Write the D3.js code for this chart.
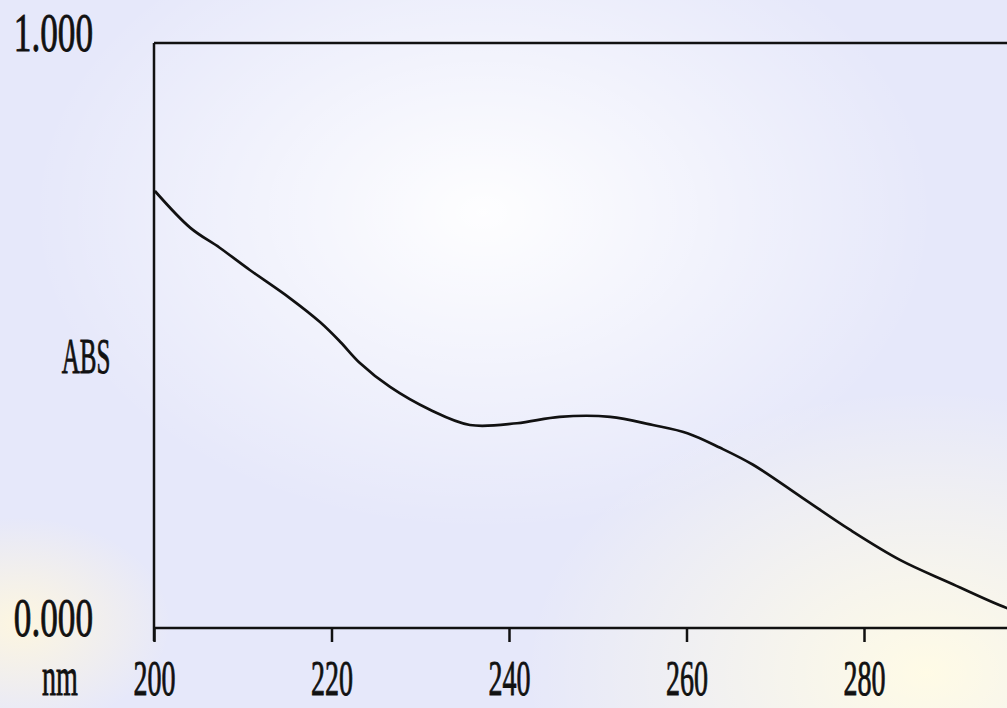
<!DOCTYPE html>
<html>
<head>
<meta charset="utf-8">
<script src="https://cdn.jsdelivr.net/npm/d3@7"></script>
<style>
  html, body { margin: 0; padding: 0; background: #eceefb; }
  svg { display: block; }
</style>
</head>
<body>
<div id="chart"></div>
<script>
// spectrum (nm, ABS)
var wavelengths = [200.1, 204.1, 207.4, 210.8, 215.3, 218.7, 221.0, 223.2, 226.6, 231.1, 235.6, 240.9, 245.7, 251.4, 256.2, 260.1, 263.8, 267.5, 273.1, 278.4, 284.1, 289.7, 296.1, 300];
var absorbance = [0.747, 0.684, 0.650, 0.612, 0.564, 0.523, 0.489, 0.453, 0.412, 0.373, 0.347, 0.350, 0.361, 0.361, 0.347, 0.333, 0.308, 0.279, 0.222, 0.168, 0.116, 0.077, 0.034, 0.015];
var xTicks = [200, 220, 240, 260, 280];
var yTicks = [0, 1];

(function() {
  var width = 1007, height = 708;
  var plotLeft = 154, plotTop = 43, plotBottom = 628;
  var pxPer20 = 177.5; // spacing of the nm ticks

  var svg = d3.select("#chart").append("svg")
    .attr("width", width)
    .attr("height", height);

  // soft background, lavender with a light centre and warm corners
  var defs = svg.append("defs");
  var g1 = defs.append("radialGradient").attr("id", "glow").attr("cx", "0.48").attr("cy", "0.3").attr("r", "0.45");
  g1.append("stop").attr("offset", "0").attr("stop-color", "#ffffff").attr("stop-opacity", 0.95);
  g1.append("stop").attr("offset", "1").attr("stop-color", "#ffffff").attr("stop-opacity", 0);
  var g2 = defs.append("radialGradient").attr("id", "warm").attr("cx", "0.92").attr("cy", "0.95").attr("r", "0.4");
  g2.append("stop").attr("offset", "0").attr("stop-color", "#fffbe6").attr("stop-opacity", 1);
  g2.append("stop").attr("offset", "1").attr("stop-color", "#fffbe6").attr("stop-opacity", 0);
  var g3 = defs.append("radialGradient").attr("id", "warm2").attr("cx", "0.02").attr("cy", "0.88").attr("r", "0.15");
  g3.append("stop").attr("offset", "0").attr("stop-color", "#fdf6e0").attr("stop-opacity", 1);
  g3.append("stop").attr("offset", "1").attr("stop-color", "#fdf6e0").attr("stop-opacity", 0);

  svg.append("rect").attr("width", width).attr("height", height).attr("fill", "#e6e8fa");
  svg.append("rect").attr("width", width).attr("height", height).attr("fill", "url(#glow)");
  svg.append("rect").attr("width", width).attr("height", height).attr("fill", "url(#warm)");
  svg.append("rect").attr("width", width).attr("height", height).attr("fill", "url(#warm2)");

  var x = d3.scaleLinear()
    .domain([200, 300])
    .range([plotLeft, plotLeft + pxPer20 * 5]);

  var y = d3.scaleLinear()
    .domain([0, 1])
    .range([plotBottom, plotTop]);

  var font = "'Liberation Serif', 'DejaVu Serif', serif";

  // frame: top edge, left edge (runs down past the axis as the 200 tick)
  svg.append("line")
    .attr("x1", plotLeft).attr("x2", width)
    .attr("y1", plotTop).attr("y2", plotTop)
    .attr("stroke", "#111").attr("stroke-width", 2.5);
  svg.append("line")
    .attr("x1", plotLeft).attr("x2", plotLeft)
    .attr("y1", plotTop).attr("y2", plotBottom + 13)
    .attr("stroke", "#111").attr("stroke-width", 2.5);

  var xAxis = svg.append("g")
    .attr("transform", "translate(0," + plotBottom + ")")
    .call(d3.axisBottom(x).tickValues(xTicks).tickSize(14).tickSizeOuter(0).tickPadding(0));
  xAxis.select(".domain").attr("d", "M" + plotLeft + ",0H" + width).attr("stroke", "#111").attr("stroke-width", 2.5);
  xAxis.selectAll(".tick line").attr("stroke", "#111").attr("stroke-width", 2.5);
  xAxis.selectAll(".tick text")
    .attr("y", 67).attr("dy", null)
    .attr("fill", "#111")
    .attr("font-family", font)
    .attr("font-size", 50)
    .attr("stroke", "#111").attr("stroke-width", 0.9)
    .attr("transform", "scale(0.56,1)");

  var yAxis = svg.append("g")
    .attr("transform", "translate(" + plotLeft + ",0)")
    .call(d3.axisLeft(y).tickValues(yTicks).tickSize(0).tickFormat(d3.format(".3f")));
  yAxis.select(".domain").remove();
  yAxis.selectAll(".tick text")
    .attr("x", 0).attr("dy", null)
    .attr("text-anchor", "end")
    .attr("fill", "#111")
    .attr("font-family", font)
    .attr("font-size", 55)
    .attr("stroke", "#111").attr("stroke-width", 0.9)
    .attr("transform", "translate(-61,7) scale(0.64,1)");

  // axis titles
  svg.append("text")
    .attr("transform", "translate(86,373) scale(0.5,1)")
    .attr("text-anchor", "middle")
    .attr("font-family", font).attr("font-size", 50)
    .attr("fill", "#111").attr("stroke", "#111").attr("stroke-width", 0.9)
    .text("ABS");
  svg.append("text")
    .attr("transform", "translate(60,695) scale(0.52,1)")
    .attr("text-anchor", "middle")
    .attr("font-family", font).attr("font-size", 54)
    .attr("fill", "#111").attr("stroke", "#111").attr("stroke-width", 0.9)
    .text("nm");

  // spectrum
  var points = wavelengths.map(function(w, i) { return [w, absorbance[i]]; });
  var line = d3.line()
    .x(function(d) { return x(d[0]); })
    .y(function(d) { return y(d[1]); })
    .curve(d3.curveCatmullRom);

  svg.append("path")
    .datum(points)
    .attr("d", line)
    .attr("fill", "none")
    .attr("stroke", "#111")
    .attr("stroke-width", 2.7);
})();
</script>
</body>
</html>
